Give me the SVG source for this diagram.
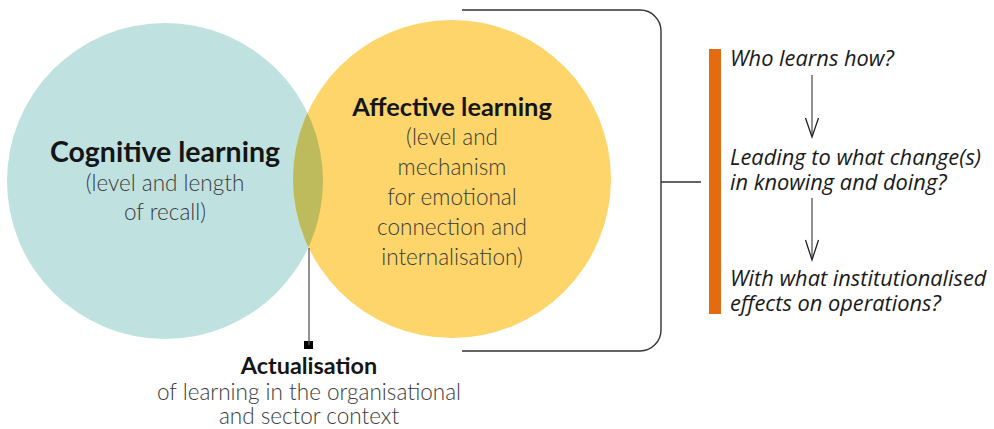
<svg xmlns="http://www.w3.org/2000/svg" width="994" height="429" viewBox="0 0 994 429">
<style>
.b{font-family:Lato,"Open Sans","Liberation Sans",sans-serif;font-weight:700;fill:#151515;text-anchor:middle}
.l{font-family:Lato,"Open Sans","Liberation Sans",sans-serif;font-weight:300;fill:#3a3a3a;text-anchor:middle;font-size:22.5px}
.q{font-family:"Open Sans","Noto Sans","Liberation Sans",sans-serif;font-style:italic;fill:#1a1a1a;font-size:21.8px}
.ln{fill:none;stroke:#333;stroke-width:1.4}
.ar{fill:none;stroke:#555;stroke-width:1.3}
.hd{fill:none;stroke:#222;stroke-width:1.3}
</style>
<defs>
<clipPath id="cc"><circle cx="165" cy="181" r="158"/></clipPath>
</defs>
<g id="cognitive">
<circle cx="165" cy="181" r="158" fill="#bfe2e1"/>
<text class="b" x="165" y="162" font-size="28.5">Cognitive learning</text>
<text class="l" x="165" y="191">(level and length</text>
<text class="l" x="165" y="220">of recall)</text>
</g>
<g id="affective">
<circle cx="452" cy="179" r="159" fill="#fdd56b"/>
<circle cx="452" cy="179" r="159" fill="#bdbb5b" clip-path="url(#cc)"/>
<text class="b" x="452" y="116" font-size="25.4">Affective learning</text>
<text class="l" x="452" y="145">(level and</text>
<text class="l" x="452" y="175">mechanism</text>
<text class="l" x="452" y="205">for emotional</text>
<text class="l" x="452" y="235">connection and</text>
<text class="l" x="452" y="265">internalisation)</text>
</g>
<g id="actualisation">
<rect x="304" y="341" width="9" height="8" fill="#000"/>
<text class="b" x="309" y="374" font-size="23.4">Actualisation</text>
<text class="l" x="309" y="400">of learning in the organisational</text>
<text class="l" x="309" y="424">and sector context</text>
</g>
<g id="questions">
<rect x="709" y="49" width="12" height="265" fill="#e36c11"/>
<text class="q" x="730" y="66">Who learns how?</text>
<text class="q" x="730" y="165">Leading to what change(s)</text>
<text class="q" x="730" y="190">in knowing and doing?</text>
<text class="q" x="730" y="286">With what institutionalised</text>
<text class="q" x="730" y="311">effects on operations?</text>
</g>
<g id="connectors">
<line class="ar" x1="309" y1="248" x2="309" y2="345"/>
<path class="ln" d="M462,10 H640 A21,21 0 0 1 661,31 V330 A21,21 0 0 1 640,351 H462 M661,182 H701"/>
<line class="ar" x1="812" y1="75" x2="812" y2="136"/>
<path class="hd" d="M805.5,118 L812,137 L818.5,118"/>
<line class="ar" x1="812" y1="198" x2="812" y2="259"/>
<path class="hd" d="M805.5,240 L812,260 L818.5,240"/>
</g>
</svg>
